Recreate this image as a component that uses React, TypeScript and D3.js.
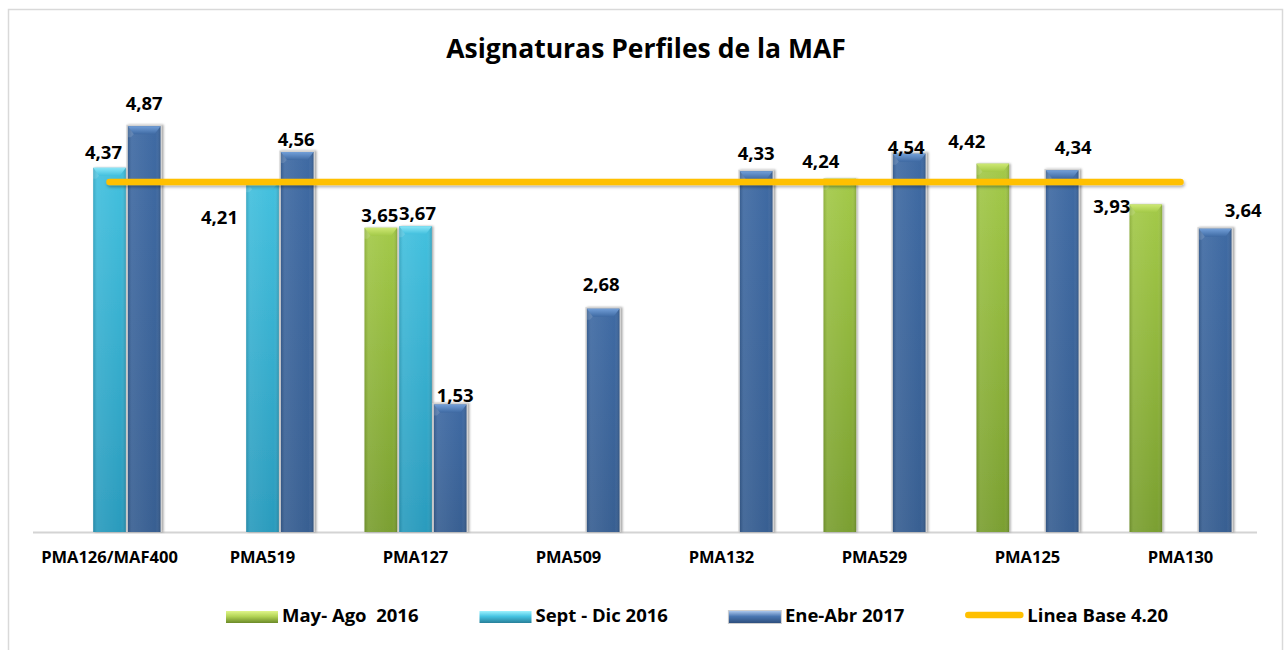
import * as d3 from "d3";
import {useEffect, useRef} from "react";

const chartTitle = "Asignaturas Perfiles de la MAF";
const categories = ["PMA126/MAF400", "PMA519", "PMA127", "PMA509", "PMA132", "PMA529", "PMA125", "PMA130"];
const seriesNames = ["May- Ago  2016", "Sept - Dic 2016", "Ene-Abr 2017"];
const mayAgo2016 = [null, null, 3.65, null, null, 4.24, 4.42, 3.93];
const septDic2016 = [4.37, 4.21, 3.67, null, null, null, null, null];
const eneAbr2017 = [4.87, 4.56, 1.53, 2.68, 4.33, 4.54, 4.34, 3.64];
const lineaBase = 4.2;
const lineaBaseLabel = "Linea Base 4.20";

// data labels were dragged by hand in the original: [dx from bar centre, baseline offset from bar top]
const labelNudge: Record<string, [number, number]> = {
  "1-0": [-6, -9],
  "2-0": [0, -16],
  "1-1": [-43, 43],
  "2-1": [-1, -6],
  "0-2": [-1, -6],
  "1-2": [2, -6],
  "2-2": [5, -3],
  "2-3": [-2, -18],
  "2-4": [0, -11],
  "0-5": [-19, -11],
  "2-5": [-3, 0],
  "0-6": [-26, -16],
  "2-6": [11, -16],
  "0-7": [-34, 8],
  "2-7": [28, -12],
};

const seriesStyle = [
  {top: "#a3c948", bottom: "#7a9f30", bevel: "#cde873", sw: ["#e0f58a", "#b3d455", "#6b8a28"], frame: false},
  {top: "#43c0de", bottom: "#2a9bbd", bevel: "#8be6f7", sw: ["#9ef3ff", "#45c4e2", "#277f99"], frame: false},
  {top: "#3f6aa3", bottom: "#385f92", bevel: "#729fd8", sw: ["#aac6ec", "#4a77b2", "#2d4e7d"], frame: true},
];

const font = "'Open Sans', 'Liberation Sans', sans-serif";

function App() {
  const ref = useRef<SVGSVGElement>(null);

  useEffect(() => {
    const svg = d3.select(ref.current);
    svg.selectAll("*").remove();

    const values = [mayAgo2016, septDic2016, eneAbr2017];
    const keys = seriesNames.map((d, i) => String(i));

    const defs = svg.append("defs");
    seriesStyle.forEach((s, i) => {
      const g = defs.append("linearGradient").attr("id", "body" + i)
        .attr("x1", 0).attr("y1", 0).attr("x2", 0).attr("y2", 1);
      g.append("stop").attr("offset", "0%").attr("stop-color", s.top);
      g.append("stop").attr("offset", "100%").attr("stop-color", s.bottom);
      const b = defs.append("linearGradient").attr("id", "bevel" + i)
        .attr("x1", 0).attr("y1", 0).attr("x2", 0).attr("y2", 1);
      b.append("stop").attr("offset", "0%").attr("stop-color", s.bevel);
      b.append("stop").attr("offset", "100%").attr("stop-color", s.top);
      const sw = defs.append("linearGradient").attr("id", "swatch" + i)
        .attr("x1", 0).attr("y1", 0).attr("x2", 0).attr("y2", 1);
      sw.append("stop").attr("offset", "0%").attr("stop-color", s.sw[0]);
      sw.append("stop").attr("offset", "45%").attr("stop-color", s.sw[1]);
      sw.append("stop").attr("offset", "100%").attr("stop-color", s.sw[2]);
    });
    const edge = defs.append("linearGradient").attr("id", "edge")
      .attr("x1", 0).attr("y1", 0).attr("x2", 1).attr("y2", 0);
    edge.append("stop").attr("offset", "0%").attr("stop-color", "#000").attr("stop-opacity", 0.12);
    edge.append("stop").attr("offset", "12%").attr("stop-color", "#fff").attr("stop-opacity", 0.08);
    edge.append("stop").attr("offset", "85%").attr("stop-color", "#fff").attr("stop-opacity", 0);
    edge.append("stop").attr("offset", "100%").attr("stop-color", "#000").attr("stop-opacity", 0.15);

    defs.append("filter").attr("id", "barShadow")
      .attr("x", "-30%").attr("y", "-10%").attr("width", "160%").attr("height", "120%")
      .append("feDropShadow").attr("dx", 1.5).attr("dy", 0).attr("stdDeviation", 1.2)
      .attr("flood-color", "#000").attr("flood-opacity", 0.35);
    // horizontal path has a zero-height bbox, so the filter region is given in user space
    defs.append("filter").attr("id", "lineShadow")
      .attr("filterUnits", "userSpaceOnUse")
      .attr("x", 0).attr("y", 0).attr("width", 1284).attr("height", 650)
      .append("feDropShadow").attr("dx", 1).attr("dy", 2).attr("stdDeviation", 1.5)
      .attr("flood-color", "#000").attr("flood-opacity", 0.3);

    // chart frame
    svg.append("rect")
      .attr("x", 8.5).attr("y", 9.5).attr("width", 1274).attr("height", 700)
      .attr("fill", "#fff").attr("stroke", "#d9d9d9").attr("stroke-width", 1.5);

    svg.append("text")
      .attr("x", 646).attr("y", 58)
      .attr("text-anchor", "middle")
      .style("font-family", font).style("font-weight", 700).style("font-size", "26.5px")
      .text(chartTitle);

    const x0 = d3.scaleBand().domain(categories).range([33, 1257]).paddingInner(1 / 3).paddingOuter(1 / 6);
    const x1 = d3.scaleBand().domain(keys).range([0, x0.bandwidth()]).paddingInner(0.06);
    const y = d3.scaleLinear().domain([0, 6]).range([532, 32]);

    // category axis
    svg.append("line")
      .attr("x1", 33).attr("x2", 1257).attr("y1", y(0) + 0.5).attr("y2", y(0) + 0.5)
      .attr("stroke", "#d4d4d4").attr("stroke-width", 2);

    svg.append("g").selectAll("text")
      .data(categories)
      .enter()
      .append("text")
        .attr("x", d => (x0(d) as number) + x0.bandwidth() / 2)
        .attr("y", 563)
        .attr("text-anchor", "middle")
        .style("font-family", font).style("font-weight", 700).style("font-size", "16.5px")
        .text(d => d);

    const bars: {s: number, c: number, v: number}[] = [];
    values.forEach((arr, s) => arr.forEach((v, c) => {
      if (v != null) bars.push({s, c, v});
    }));

    const bw = x1.bandwidth();
    const barG = svg.append("g");
    bars.forEach(b => {
      const st = seriesStyle[b.s];
      const bx = (x0(categories[b.c]) as number) + (x1(String(b.s)) as number);
      const top = y(b.v);
      const h = y(0) - top;
      const g = barG.append("g");
      if (st.frame) {
        g.append("rect")
          .attr("x", bx - 1.5).attr("y", top - 1.5).attr("width", bw + 3).attr("height", h + 1.5)
          .attr("fill", "#d2d2d2").attr("filter", "url(#barShadow)");
      }
      g.append("rect")
        .attr("x", bx).attr("y", top).attr("width", bw).attr("height", h)
        .attr("fill", `url(#body${b.s})`)
        .attr("filter", st.frame ? null : "url(#barShadow)");
      g.append("rect")
        .attr("x", bx).attr("y", top).attr("width", bw).attr("height", h)
        .attr("fill", "url(#edge)");
      const bev = Math.min(8, h / 2);
      g.append("path")
        .attr("d", `M${bx},${top}L${bx + bw},${top}L${bx + bw - 6},${top + bev}L${bx + 6},${top + bev}Z`)
        .attr("fill", `url(#bevel${b.s})`);
      g.append("path")
        .attr("d", `M${bx},${top}L${bx + 6},${top + bev}L${bx + 3},${top + bev + 3}L${bx},${top + bev + 3}Z`)
        .attr("fill", "#fff").attr("opacity", 0.12);
    });

    // base line
    const lineData = categories.map(c => ({c, v: lineaBase}));
    const line = d3.line<{c: string, v: number}>()
      .x(d => (x0(d.c) as number) + x0.bandwidth() / 2)
      .y(d => y(d.v));
    svg.append("path")
      .datum(lineData)
      .attr("d", line)
      .attr("fill", "none")
      .attr("stroke", "#ffc000")
      .attr("stroke-width", 6.5)
      .attr("stroke-linecap", "round")
      .attr("filter", "url(#lineShadow)");

    // data labels
    const fmt = (v: number) => d3.format(".2f")(v).replace(".", ",");
    svg.append("g").selectAll("text")
      .data(bars)
      .enter()
      .append("text")
        .attr("x", d => {
          const n = labelNudge[d.s + "-" + d.c] || [0, -12];
          return (x0(categories[d.c]) as number) + (x1(String(d.s)) as number) + bw / 2 + n[0];
        })
        .attr("y", d => {
          const n = labelNudge[d.s + "-" + d.c] || [0, -12];
          return y(d.v) + n[1];
        })
        .attr("text-anchor", "middle")
        .style("font-family", font).style("font-weight", 700).style("font-size", "18.5px")
        .text(d => fmt(d.v));

    // legend
    const legend = svg.append("g");
    let lx = 226;
    const items = [...seriesNames.map((n, i) => ({name: n, s: i})), {name: lineaBaseLabel, s: -1}];
    items.forEach(it => {
      const swW = it.s < 0 ? 58 : 52;
      if (it.s < 0) {
        legend.append("line")
          .attr("x1", lx + 3).attr("x2", lx + swW - 3).attr("y1", 615).attr("y2", 615)
          .attr("stroke", "#ffc000").attr("stroke-width", 6.5).attr("stroke-linecap", "round");
      } else {
        if (seriesStyle[it.s].frame) {
          legend.append("rect")
            .attr("x", lx - 1).attr("y", 610).attr("width", swW + 2).attr("height", 14)
            .attr("fill", "#cfcfcf");
        }
        legend.append("rect")
          .attr("x", lx).attr("y", 611).attr("width", swW).attr("height", 12)
          .attr("fill", `url(#swatch${it.s})`);
      }
      const t = legend.append("text")
        .attr("x", lx + swW + 4).attr("y", 622)
        .style("font-family", font).style("font-weight", 700).style("font-size", "18.5px")
        .style("white-space", "pre")
        .text(it.name);
      const w = (t.node() as SVGTextElement).getComputedTextLength();
      lx = lx + swW + 4 + w + 61;
    });
  });

  return (
    <svg ref={ref} width={1284} height={650}
      style={{position: "absolute", left: 0, top: 0, display: "block"}} />
  );
}

export default App;
